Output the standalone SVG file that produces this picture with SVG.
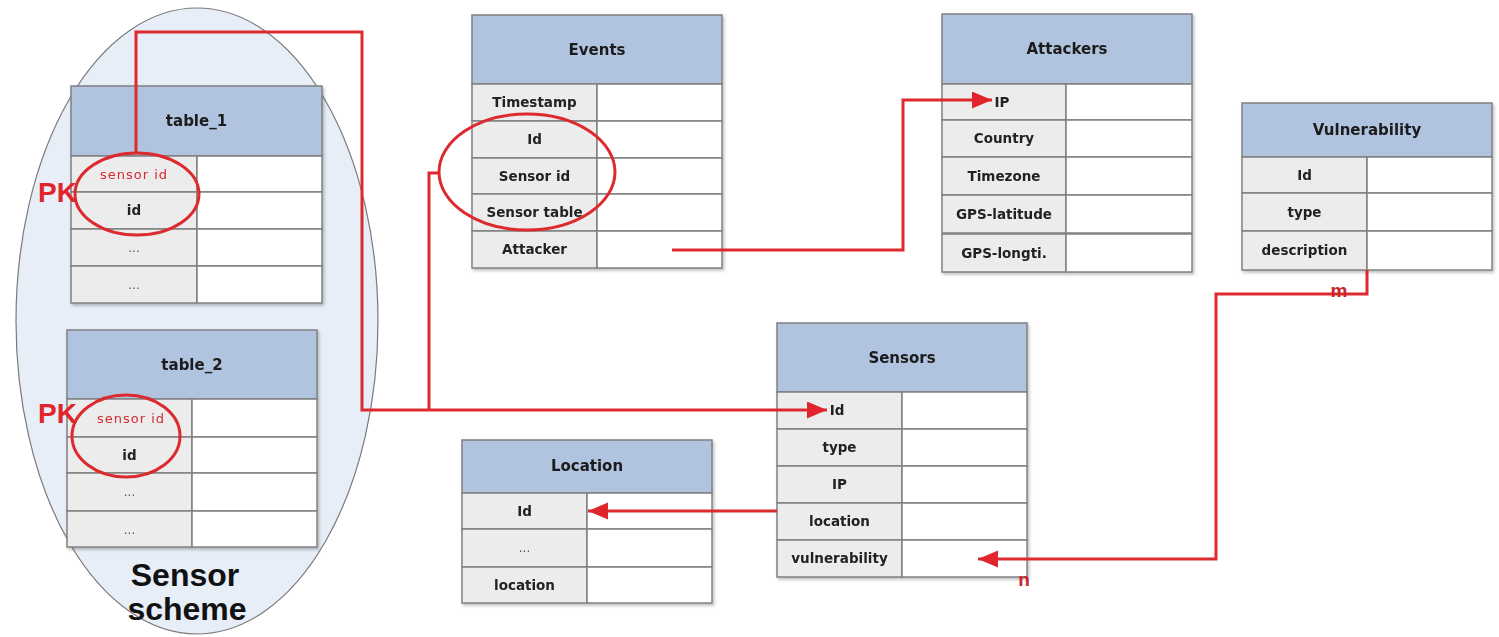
<svg xmlns="http://www.w3.org/2000/svg" width="1499" height="637" viewBox="0 0 1499 637">
<defs>
<style>
.hd{fill:#b1c4df;stroke:#808080;stroke-width:1.5}
.lc{fill:#ececec;stroke:#808080;stroke-width:1.5}
.rc{fill:#ffffff;stroke:#808080;stroke-width:1.5}
.ht{font-family:"DejaVu Sans",sans-serif;font-weight:bold;font-size:15px;fill:#1a1a1a;text-anchor:middle}
.ft{font-family:"DejaVu Sans",sans-serif;font-weight:bold;font-size:13.5px;fill:#222;text-anchor:middle}
.dt{font-family:"DejaVu Sans",sans-serif;font-size:12px;fill:#555;text-anchor:middle}
.rt{font-family:"DejaVu Sans",sans-serif;font-size:13px;fill:#d42a30;text-anchor:middle;letter-spacing:1px}
.pk{font-family:"Liberation Sans",Arial,sans-serif;font-weight:bold;font-size:28px;fill:#e0262c}
.lbl{font-family:"Liberation Sans",Arial,sans-serif;font-weight:bold;font-size:19px;fill:#c8242a;text-anchor:middle}
.big{font-family:"Liberation Sans",Arial,sans-serif;font-weight:bold;font-size:32px;fill:#111;text-anchor:middle}
.con{fill:none;stroke:#dc2a2e;stroke-width:3}
.ring{fill:none;stroke:#dc2a2e;stroke-width:3}
</style>
<marker id="arr" markerUnits="userSpaceOnUse" markerWidth="22" markerHeight="18" refX="20" refY="8.5" orient="auto">
<path d="M0,0 L20,8.5 L0,17 z" fill="#e0262c"/>
</marker>
<filter id="sh" x="-5%" y="-5%" width="115%" height="115%">
<feDropShadow dx="1.5" dy="2" stdDeviation="1.5" flood-color="#000" flood-opacity="0.25"/>
</filter>
</defs>
<rect width="1499" height="637" fill="#ffffff"/>

<g id="sensor-scheme">
<ellipse cx="197" cy="321" rx="181" ry="313" fill="#e7eef8" stroke="#7a7a7a" stroke-width="1.2"/>
<text class="big" x="185" y="586">Sensor</text>
<text class="big" x="187" y="620">scheme</text>
</g>

<g id="table_1" filter="url(#sh)">
<rect class="hd" x="71" y="86" width="251" height="70"/>
<text class="ht" x="196.5" y="126">table_1</text>
<rect class="lc" x="71" y="156" width="126" height="36"/><rect class="rc" x="197" y="156" width="125" height="36"/>
<rect class="lc" x="71" y="192" width="126" height="37"/><rect class="rc" x="197" y="192" width="125" height="37"/>
<rect class="lc" x="71" y="229" width="126" height="37"/><rect class="rc" x="197" y="229" width="125" height="37"/>
<rect class="lc" x="71" y="266" width="126" height="37"/><rect class="rc" x="197" y="266" width="125" height="37"/>
<text class="rt" x="134" y="179">sensor id</text>
<text class="ft" x="134" y="215">id</text>
<text class="dt" x="134" y="252">...</text>
<text class="dt" x="134" y="289">...</text>
</g>

<g id="table_2" filter="url(#sh)">
<rect class="hd" x="67" y="330" width="250" height="69"/>
<text class="ht" x="192" y="370">table_2</text>
<rect class="lc" x="67" y="399" width="125" height="38"/><rect class="rc" x="192" y="399" width="125" height="38"/>
<rect class="lc" x="67" y="437" width="125" height="36"/><rect class="rc" x="192" y="437" width="125" height="36"/>
<rect class="lc" x="67" y="473" width="125" height="38"/><rect class="rc" x="192" y="473" width="125" height="38"/>
<rect class="lc" x="67" y="511" width="125" height="36"/><rect class="rc" x="192" y="511" width="125" height="36"/>
<text class="rt" x="131" y="423">sensor id</text>
<text class="ft" x="129.5" y="460">id</text>
<text class="dt" x="129.5" y="496">...</text>
<text class="dt" x="129.5" y="534">...</text>
</g>

<g id="events" filter="url(#sh)">
<rect class="hd" x="472" y="15" width="250" height="69"/>
<text class="ht" x="597" y="55">Events</text>
<rect class="lc" x="472" y="84" width="125" height="37"/><rect class="rc" x="597" y="84" width="125" height="37"/>
<rect class="lc" x="472" y="121" width="125" height="37"/><rect class="rc" x="597" y="121" width="125" height="37"/>
<rect class="lc" x="472" y="158" width="125" height="36"/><rect class="rc" x="597" y="158" width="125" height="36"/>
<rect class="lc" x="472" y="194" width="125" height="37"/><rect class="rc" x="597" y="194" width="125" height="37"/>
<rect class="lc" x="472" y="231" width="125" height="37"/><rect class="rc" x="597" y="231" width="125" height="37"/>
<text class="ft" x="534.5" y="107">Timestamp</text>
<text class="ft" x="534.5" y="144">Id</text>
<text class="ft" x="534.5" y="181">Sensor id</text>
<text class="ft" x="534.5" y="217">Sensor table</text>
<text class="ft" x="534.5" y="254">Attacker</text>
</g>

<g id="attackers" filter="url(#sh)">
<rect class="hd" x="942" y="14" width="250" height="70"/>
<text class="ht" x="1067" y="54">Attackers</text>
<rect class="lc" x="942" y="84" width="124" height="36"/><rect class="rc" x="1066" y="84" width="126" height="36"/>
<rect class="lc" x="942" y="120" width="124" height="37"/><rect class="rc" x="1066" y="120" width="126" height="37"/>
<rect class="lc" x="942" y="157" width="124" height="38"/><rect class="rc" x="1066" y="157" width="126" height="38"/>
<rect class="lc" x="942" y="195" width="124" height="38"/><rect class="rc" x="1066" y="195" width="126" height="38"/>
<rect class="lc" x="942" y="234" width="124" height="38"/><rect class="rc" x="1066" y="234" width="126" height="38"/>
<text class="ft" x="1002" y="107">IP</text>
<text class="ft" x="1004" y="143">Country</text>
<text class="ft" x="1004" y="181">Timezone</text>
<text class="ft" x="1004" y="219">GPS-latitude</text>
<text class="ft" x="1004" y="258">GPS-longti.</text>
</g>

<g id="vulnerability" filter="url(#sh)">
<rect class="hd" x="1242" y="103" width="250" height="54"/>
<text class="ht" x="1367" y="135">Vulnerability</text>
<rect class="lc" x="1242" y="157" width="125" height="36"/><rect class="rc" x="1367" y="157" width="125" height="36"/>
<rect class="lc" x="1242" y="193" width="125" height="38"/><rect class="rc" x="1367" y="193" width="125" height="38"/>
<rect class="lc" x="1242" y="231" width="125" height="39"/><rect class="rc" x="1367" y="231" width="125" height="39"/>
<text class="ft" x="1304.5" y="180">Id</text>
<text class="ft" x="1304.5" y="217">type</text>
<text class="ft" x="1304.5" y="255">description</text>
</g>

<g id="sensors" filter="url(#sh)">
<rect class="hd" x="777" y="323" width="250" height="69"/>
<text class="ht" x="902" y="363">Sensors</text>
<rect class="lc" x="777" y="392" width="125" height="37"/><rect class="rc" x="902" y="392" width="125" height="37"/>
<rect class="lc" x="777" y="429" width="125" height="37"/><rect class="rc" x="902" y="429" width="125" height="37"/>
<rect class="lc" x="777" y="466" width="125" height="37"/><rect class="rc" x="902" y="466" width="125" height="37"/>
<rect class="lc" x="777" y="503" width="125" height="37"/><rect class="rc" x="902" y="503" width="125" height="37"/>
<rect class="lc" x="777" y="540" width="125" height="37"/><rect class="rc" x="902" y="540" width="125" height="37"/>
<text class="ft" x="837" y="415">Id</text>
<text class="ft" x="839.5" y="452">type</text>
<text class="ft" x="839.5" y="489">IP</text>
<text class="ft" x="839.5" y="526">location</text>
<text class="ft" x="839.5" y="563">vulnerability</text>
</g>

<g id="location" filter="url(#sh)">
<rect class="hd" x="462" y="440" width="250" height="53"/>
<text class="ht" x="587" y="471">Location</text>
<rect class="lc" x="462" y="493" width="125" height="36"/><rect class="rc" x="587" y="493" width="125" height="36"/>
<rect class="lc" x="462" y="529" width="125" height="38"/><rect class="rc" x="587" y="529" width="125" height="38"/>
<rect class="lc" x="462" y="567" width="125" height="36"/><rect class="rc" x="587" y="567" width="125" height="36"/>
<text class="ft" x="524.5" y="516">Id</text>
<text class="dt" x="524.5" y="552">...</text>
<text class="ft" x="524.5" y="590">location</text>
</g>

<g id="connectors">
<polyline class="con" points="136,153 136,32 362,32 362,410 827,410" marker-end="url(#arr)"/>
<polyline class="con" points="438,173 429,173 429,410"/>
<polyline class="con" points="672,250 903,250 903,100 992,100" marker-end="url(#arr)"/>
<polyline class="con" points="777,511 588,511" marker-end="url(#arr)"/>
<polyline class="con" points="1367,270 1367,294 1216,294 1216,559 978,559" marker-end="url(#arr)"/>
<text class="lbl" x="1339" y="297">m</text>
<text class="lbl" x="1024" y="586">n</text>
</g>

<g id="annotations">
<ellipse class="ring" cx="137" cy="194" rx="62" ry="41"/>
<ellipse class="ring" cx="126" cy="436" rx="54" ry="41"/>
<ellipse class="ring" cx="527" cy="172" rx="88" ry="58"/>
<text class="pk" x="38" y="202">PK</text>
<text class="pk" x="38" y="423">PK</text>
</g>
</svg>
